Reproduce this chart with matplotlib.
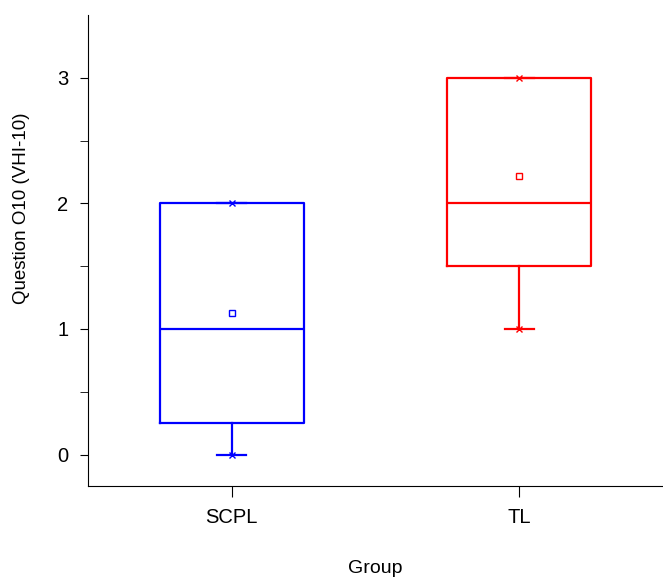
"""Box plot of Question O10 (VHI-10) by group, Origin-style."""
import matplotlib

matplotlib.use("Agg")
import matplotlib.pyplot as plt

plt.rcParams["font.family"] = ["Liberation Sans", "DejaVu Sans"]

groups = ["SCPL", "TL"]
colors = ["#0000FF", "#FF0000"]
q1 = [0.25, 1.5]
median = [1.0, 2.0]
q3 = [2.0, 3.0]
whisker_lo = [0.0, 1.0]
whisker_hi = [2.0, 3.0]
means = [1.125, 2.22]
mins = [0.0, 1.0]
maxs = [2.0, 3.0]

fig = plt.figure(figsize=(6.63, 5.77), dpi=100)
ax = fig.add_axes([88 / 663, 91 / 577, 575 / 663, 471 / 577])

positions = [1, 2]
for i, g in enumerate(groups):
    stats = [dict(label=g, q1=q1[i], med=median[i], q3=q3[i],
                  whislo=whisker_lo[i], whishi=whisker_hi[i], fliers=[])]
    c = colors[i]
    ax.bxp(stats, positions=[positions[i]], widths=0.5, showfliers=False,
           boxprops=dict(color=c, linewidth=1.6),
           medianprops=dict(color=c, linewidth=1.6),
           whiskerprops=dict(color=c, linewidth=1.6),
           capprops=dict(color=c, linewidth=1.6),
           capwidths=0.1)
    ax.plot(positions[i], means[i], marker="s", ms=4, mfc="white", mec=c,
            mew=1.0, ls="none")
    ax.plot([positions[i]] * 2, [mins[i], maxs[i]], marker="x", ms=5, color=c,
            mew=1.0, ls="none")

ax.set_xlim(0.5, 2.5)
ax.set_ylim(-0.25, 3.5)
ax.set_xticks(positions)
ax.set_xticklabels(groups)
ax.set_yticks([0, 1, 2, 3])
ax.set_yticks([0.5, 1.5, 2.5], minor=True)
ax.spines["top"].set_visible(False)
ax.spines["right"].set_visible(False)
ax.tick_params(axis="both", which="both", direction="out", labelsize=14.5)
ax.tick_params(axis="y", which="both", length=6, pad=8)
ax.tick_params(axis="x", length=8, pad=8)
ax.set_xlabel("Group", fontsize=14)
ax.set_ylabel("Question O10 (VHI-10)", fontsize=13.5)
ax.xaxis.set_label_coords(0.5, -0.157)
ax.yaxis.set_label_coords(-0.10, 0.59)

fig.savefig("out.png", dpi=100)
